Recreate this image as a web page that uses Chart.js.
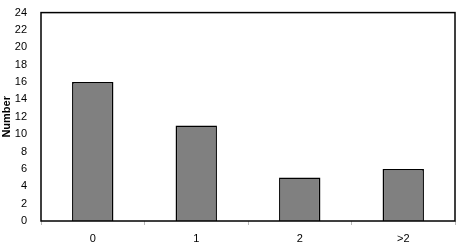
<!DOCTYPE html>
<html>
<head>
<meta charset="utf-8">
<script src="https://cdn.jsdelivr.net/npm/chart.js@4/dist/chart.umd.min.js"></script>
<style>
  html, body { margin: 0; padding: 0; background: #fff; }
  #wrap { width: 459px; height: 246px; }
</style>
</head>
<body>
<div id="wrap"><canvas id="c" width="459" height="246"></canvas></div>
<script>
const categories = ['0', '1', '2', '>2'];
const counts = [16, 11, 5, 6];
const yTicks = [0, 2, 4, 6, 8, 10, 12, 14, 16, 18, 20, 22, 24];

// frame around the plot area
const frame = {
  id: 'frame',
  afterDatasetsDraw(chart) {
    const a = chart.chartArea, ctx = chart.ctx;
    ctx.save();
    ctx.strokeStyle = '#000';
    ctx.lineWidth = 1.5;
    ctx.strokeRect(a.left, a.top, a.right - a.left, a.bottom - a.top);
    ctx.restore();
  }
};

new Chart(document.getElementById('c'), {
  type: 'bar',
  data: {
    labels: categories,
    datasets: [{
      data: counts,
      backgroundColor: '#808080',
      borderColor: '#000',
      borderWidth: 1.5,
      categoryPercentage: 1,
      barPercentage: 0.4
    }]
  },
  options: {
    responsive: false,
    animation: false,
    layout: { padding: { top: 7, right: 4 } },
    plugins: { legend: { display: false }, tooltip: { enabled: false } },
    scales: {
      x: {
        grid: { drawOnChartArea: false, tickLength: 4, color: '#bbb' },
        border: { display: false },
        ticks: { color: '#000', font: { family: 'Liberation Sans, Arial', size: 11 }, padding: 7, maxRotation: 0 },
        afterFit(s) { s.height = 25; }
      },
      y: {
        min: 0,
        max: 24,
        afterBuildTicks(s) { s.ticks = yTicks.map(v => ({ value: v })); },
        grid: { display: false },
        border: { display: false },
        ticks: { color: '#000', font: { family: 'Liberation Sans, Arial', size: 11 }, padding: 6 },
        title: { display: true, text: 'Number', color: '#000', font: { family: 'Liberation Sans, Arial', size: 11, weight: 'bold' }, padding: 0 },
        afterFit(s) { s.width = 41; }
      }
    }
  },
  plugins: [frame]
});
</script>
</body>
</html>
